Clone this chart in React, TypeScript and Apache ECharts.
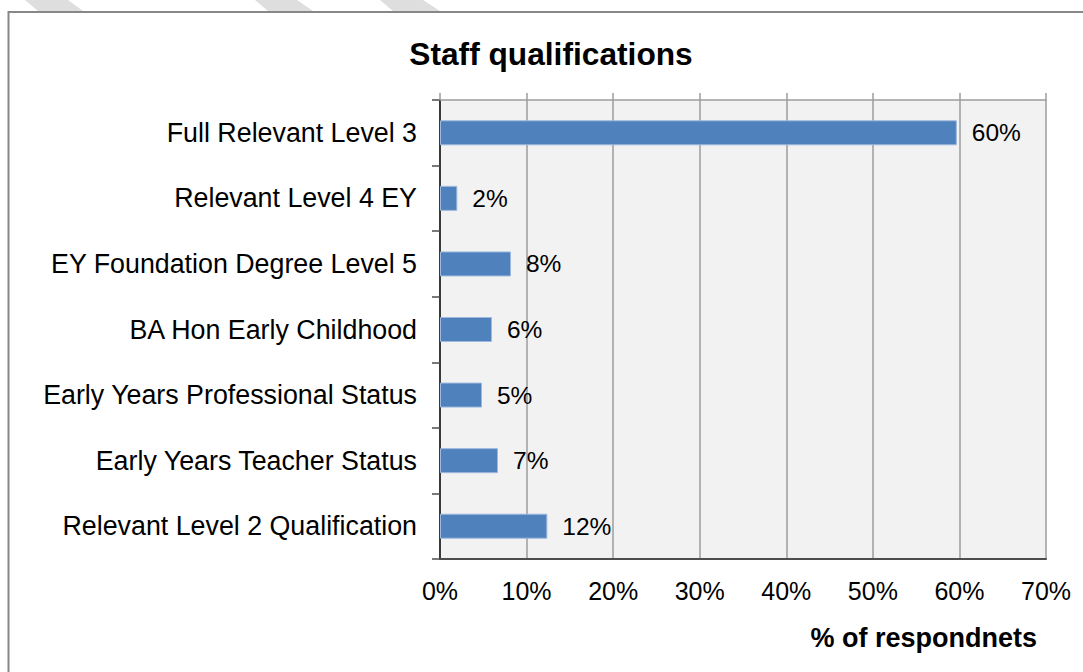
import React, { useEffect, useRef } from "react";
import * as echarts from "echarts";

const categories = [
  "Full Relevant Level 3",
  "Relevant Level 4 EY",
  "EY Foundation Degree Level 5",
  "BA Hon Early Childhood",
  "Early Years Professional Status",
  "Early Years Teacher Status",
  "Relevant Level 2 Qualification",
];
const values = [59.7, 2.0, 8.2, 6.0, 4.85, 6.7, 12.4];
const valueLabels = ["60%", "2%", "8%", "6%", "5%", "7%", "12%"];
const xTicks = [0, 10, 20, 30, 40, 50, 60, 70];

const FONT = "'Liberation Sans', Arial, sans-serif";

export default function App() {
  const ref = useRef<HTMLDivElement>(null);
  useEffect(() => {
    if (!ref.current) return;
    const chart = echarts.init(ref.current, null, { renderer: "svg" });
    chart.setOption({
      animation: false,
      backgroundColor: "#ffffff",
      title: {
        text: "Staff qualifications",
        left: 546,
        top: 33,
        textAlign: "center",
        textStyle: { fontFamily: FONT, fontSize: 31.7, fontWeight: "bold", color: "#000" },
      },
      grid: {
        left: 440,
        right: 37,
        top: 100,
        bottom: 113,
        show: true,
        backgroundColor: "#F2F2F2",
        borderWidth: 0,
      },
      xAxis: [
        {
          type: "value",
          min: 0,
          max: 70,
          interval: 10,
          position: "bottom",
          axisLine: { show: true, lineStyle: { color: "#4d4d4d", width: 2 } },
          axisTick: { show: false },
          splitLine: { show: true, lineStyle: { color: "#9c9c9c", width: 1.5 } },
          axisLabel: {
            margin: 19,
            fontFamily: FONT,
            fontSize: 25,
            color: "#000",
            formatter: (v: number) => (xTicks.includes(v) ? v + "%" : ""),
          },
        },
        {
          type: "value",
          min: 0,
          max: 70,
          interval: 10,
          position: "top",
          axisLine: { show: true, lineStyle: { color: "#9c9c9c", width: 1.5 } },
          axisTick: { show: true, inside: false, length: 7, lineStyle: { color: "#9c9c9c", width: 1.5 } },
          splitLine: { show: false },
          axisLabel: { show: false },
        },
      ],
      yAxis: [
        {
          type: "category",
          data: categories,
          inverse: true,
          axisLine: { show: true, lineStyle: { color: "#4d4d4d", width: 2 } },
          axisTick: { show: true, inside: false, length: 8, alignWithLabel: false, lineStyle: { color: "#4d4d4d", width: 1.5 } },
          axisLabel: { margin: 23, fontFamily: FONT, fontSize: 26.8, color: "#000" },
        },
        {
          type: "category",
          data: categories,
          inverse: true,
          position: "right",
          axisLine: { show: true, lineStyle: { color: "#333", width: 1.5 } },
          axisTick: { show: false },
          axisLabel: { show: false },
        },
      ],
      series: [
        {
          type: "bar",
          data: values,
          barWidth: 25,
          itemStyle: { color: "#4F81BD", borderColor: "#9DB9DD", borderWidth: 1 },
          label: {
            show: true,
            position: "right",
            distance: 15,
            fontFamily: FONT,
            fontSize: 24.5,
            color: "#000",
            formatter: (p: any) => valueLabels[p.dataIndex],
          },
        },
      ],
      graphic: [
        { type: "polygon", shape: { points: [[25, 0], [68, 0], [83, 11], [38, 11]] }, style: { fill: "#DEDEDE" } },
        { type: "polygon", shape: { points: [[255, 0], [297, 0], [313, 11], [268, 11]] }, style: { fill: "#DEDEDE" } },
        { type: "polygon", shape: { points: [[380, 0], [423, 0], [440, 11], [393, 11]] }, style: { fill: "#DEDEDE" } },
        {
          type: "rect",
          shape: { x: 8.5, y: 12, width: 1100, height: 700 },
          style: { fill: "none", stroke: "#878787", lineWidth: 2 },
          z: 10,
        },
        {
          type: "text",
          x: 1037,
          y: 638,
          style: {
            text: "% of respondnets",
            textAlign: "right",
            textVerticalAlign: "middle",
            fontFamily: FONT,
            fontSize: 27,
            fontWeight: "bold",
            fill: "#000",
          },
        },
      ],
    });
    return () => chart.dispose();
  }, []);
  return <div ref={ref} style={{ position: "fixed", left: 0, top: 0, width: 1083, height: 672 }} />;
}
